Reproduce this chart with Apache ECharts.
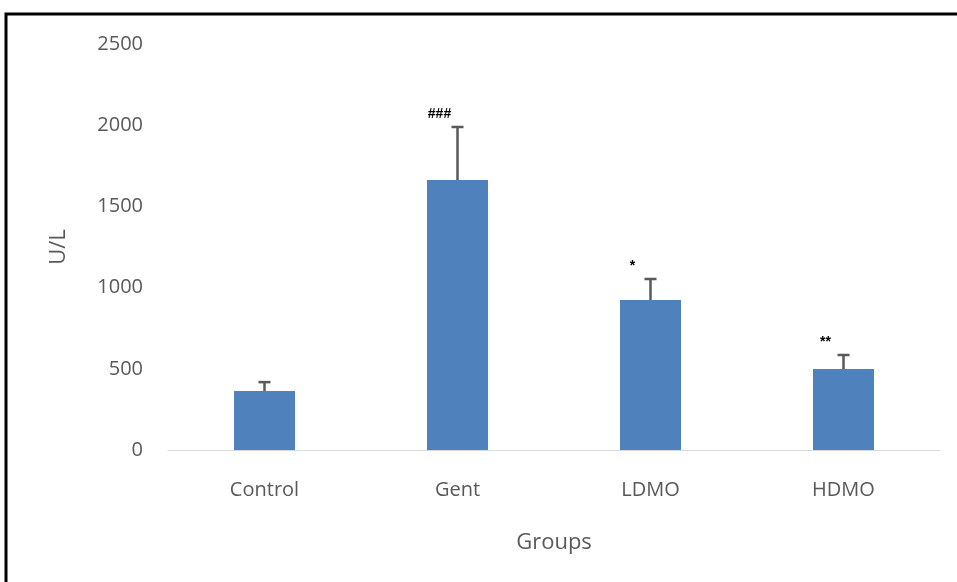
<!DOCTYPE html>
<html>
<head>
<meta charset="utf-8">
<script src="https://cdn.jsdelivr.net/npm/echarts@6/dist/echarts.min.js"></script>
<style>html,body{margin:0;padding:0;background:#fff;}#c{width:957px;height:582px;}</style>
</head>
<body>
<div id="c"></div>
<script>
const categories = ['Control', 'Gent', 'LDMO', 'HDMO'];
const values = [363, 1662, 924, 499];
const errors = [55, 327, 129, 86];
const marks = ['', '###', '*', '**'];
const yTicks = { min: 0, max: 2500, interval: 500 };

const chart = echarts.init(document.getElementById('c'));
const font = '"Open Sans", "Noto Sans", sans-serif';
chart.setOption({
  animation: false,
  backgroundColor: '#fff',
  graphic: [{
    type: 'rect', silent: true, z: 100,
    shape: { x: 6, y: 14, width: 1000, height: 600 },
    style: { fill: 'none', stroke: '#000', lineWidth: 3 }
  }],
  grid: { left: 168, right: 17, top: 44, bottom: 132 },
  xAxis: {
    type: 'category', data: categories,
    name: 'Groups', nameLocation: 'middle', nameGap: 82,
    nameTextStyle: { fontSize: 22, color: '#595959', fontFamily: font },
    axisLine: { lineStyle: { color: '#d9d9d9', width: 1 } },
    axisTick: { show: false },
    axisLabel: { fontSize: 20, color: '#595959', fontFamily: font, margin: 30 }
  },
  yAxis: {
    type: 'value', min: yTicks.min, max: yTicks.max, interval: yTicks.interval,
    name: 'U/L', nameLocation: 'middle', nameGap: 98, nameRotate: 90,
    nameTextStyle: { fontSize: 22, color: '#595959', fontFamily: font },
    splitLine: { show: false },
    axisLine: { show: false }, axisTick: { show: false },
    axisLabel: { fontSize: 20, color: '#595959', fontFamily: font, margin: 25, formatter: v => String(v) }
  },
  series: [{
    type: 'bar', data: values, barWidth: 61,
    itemStyle: { color: '#4f81bd' }
  }, {
    type: 'custom', z: 10,
    data: values.map((v, i) => [i, v, v + errors[i], marks[i]]),
    renderItem: function (params, api) {
      const base = api.coord([api.value(0), api.value(1)]);
      const top = api.coord([api.value(0), api.value(2)]);
      const x = base[0];
      const children = [
        { type: 'line', shape: { x1: x, y1: base[1], x2: x, y2: top[1] }, style: { stroke: '#595959', lineWidth: 2.5 } },
        { type: 'line', shape: { x1: x - 6, y1: top[1], x2: x + 6, y2: top[1] }, style: { stroke: '#595959', lineWidth: 2.5 } }
      ];
      const m = marks[params.dataIndex];
      if (m) {
        children.push({ type: 'text', style: { text: m, x: x - 18, y: top[1] - 6, textAlign: 'center', textVerticalAlign: 'bottom', fontSize: 14, fontWeight: 'bold', fill: '#000', fontFamily: 'Arial, sans-serif' } });
      }
      return { type: 'group', children: children };
    }
  }]
});
</script>
</body>
</html>
